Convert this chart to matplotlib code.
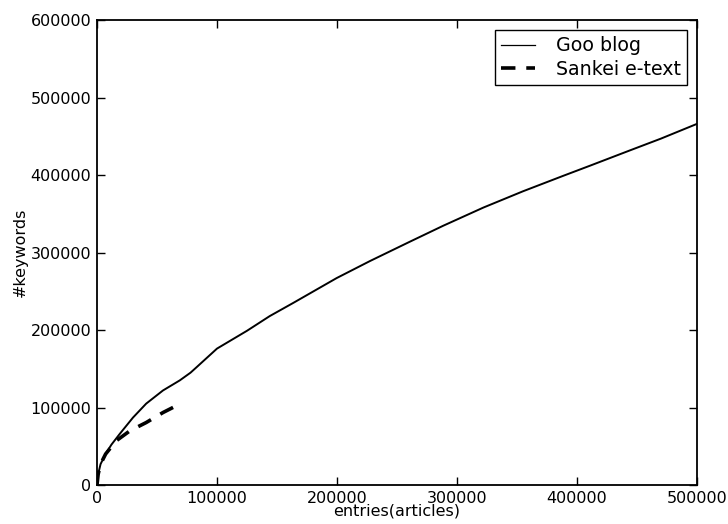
import numpy as np
import matplotlib
matplotlib.use("Agg")
import matplotlib.pyplot as plt

# values
goo_x = [0, 1000, 3000, 7200, 12000, 19000, 30000, 41000, 55000, 69000, 78000, 83000,
         100000, 125000, 144000, 163600, 199700, 227500, 260800, 288600, 322000,
         355000, 388600, 410800, 444000, 470000, 500000]
goo_y = [0, 14000, 27000, 40000, 52000, 66000, 87000, 105000, 122000, 135000, 145000, 152000,
         176000, 199000, 218000, 235000, 267000, 289000, 314000, 334600, 358000,
         379000, 399000, 412000, 431700, 447000, 466000]

sankei_x = [0, 1000, 3000, 7200, 16000, 27500, 41000, 55000, 67700]
sankei_y = [0, 14000, 27000, 40000, 57000, 70000, 80600, 93500, 103500]

xticks = [0, 100000, 200000, 300000, 400000, 500000]
yticks = [0, 100000, 200000, 300000, 400000, 500000, 600000]

fig = plt.figure(figsize=(7.28, 5.24), dpi=100, facecolor="white")
ax = fig.add_axes([0.1332, 0.0744, 0.8242, 0.8874])

ax.plot(goo_x, goo_y, color="black", lw=1.4, label="Goo blog")
ax.plot(sankei_x, sankei_y, color="black", lw=2.6, ls=(0, (4, 3)), label="Sankei e-text")

ax.set_xlim(0, 500000)
ax.set_ylim(0, 600000)
ax.set_xticks(xticks)
ax.set_yticks(yticks)
ax.tick_params(direction="in", top=True, right=True, length=6, width=1,
               labelsize=11.5, pad=4, colors="black")
for s in ax.spines.values():
    s.set_linewidth(1.3)

ax.set_xlabel("entries(articles)", fontsize=11.5, labelpad=-1.5)
ax.set_ylabel("#keywords", fontsize=11.5, labelpad=2)

leg = ax.legend(loc="upper right", fontsize=13.7, fancybox=False, framealpha=1,
                edgecolor="black", handlelength=1.8, handletextpad=1.1,
                borderpad=0.3, labelspacing=0.25, borderaxespad=0.55)
leg.get_frame().set_linewidth(1.0)
leg.get_lines()[0].set_linewidth(0.9)

fig.savefig("out.png", dpi=100, facecolor="white")
